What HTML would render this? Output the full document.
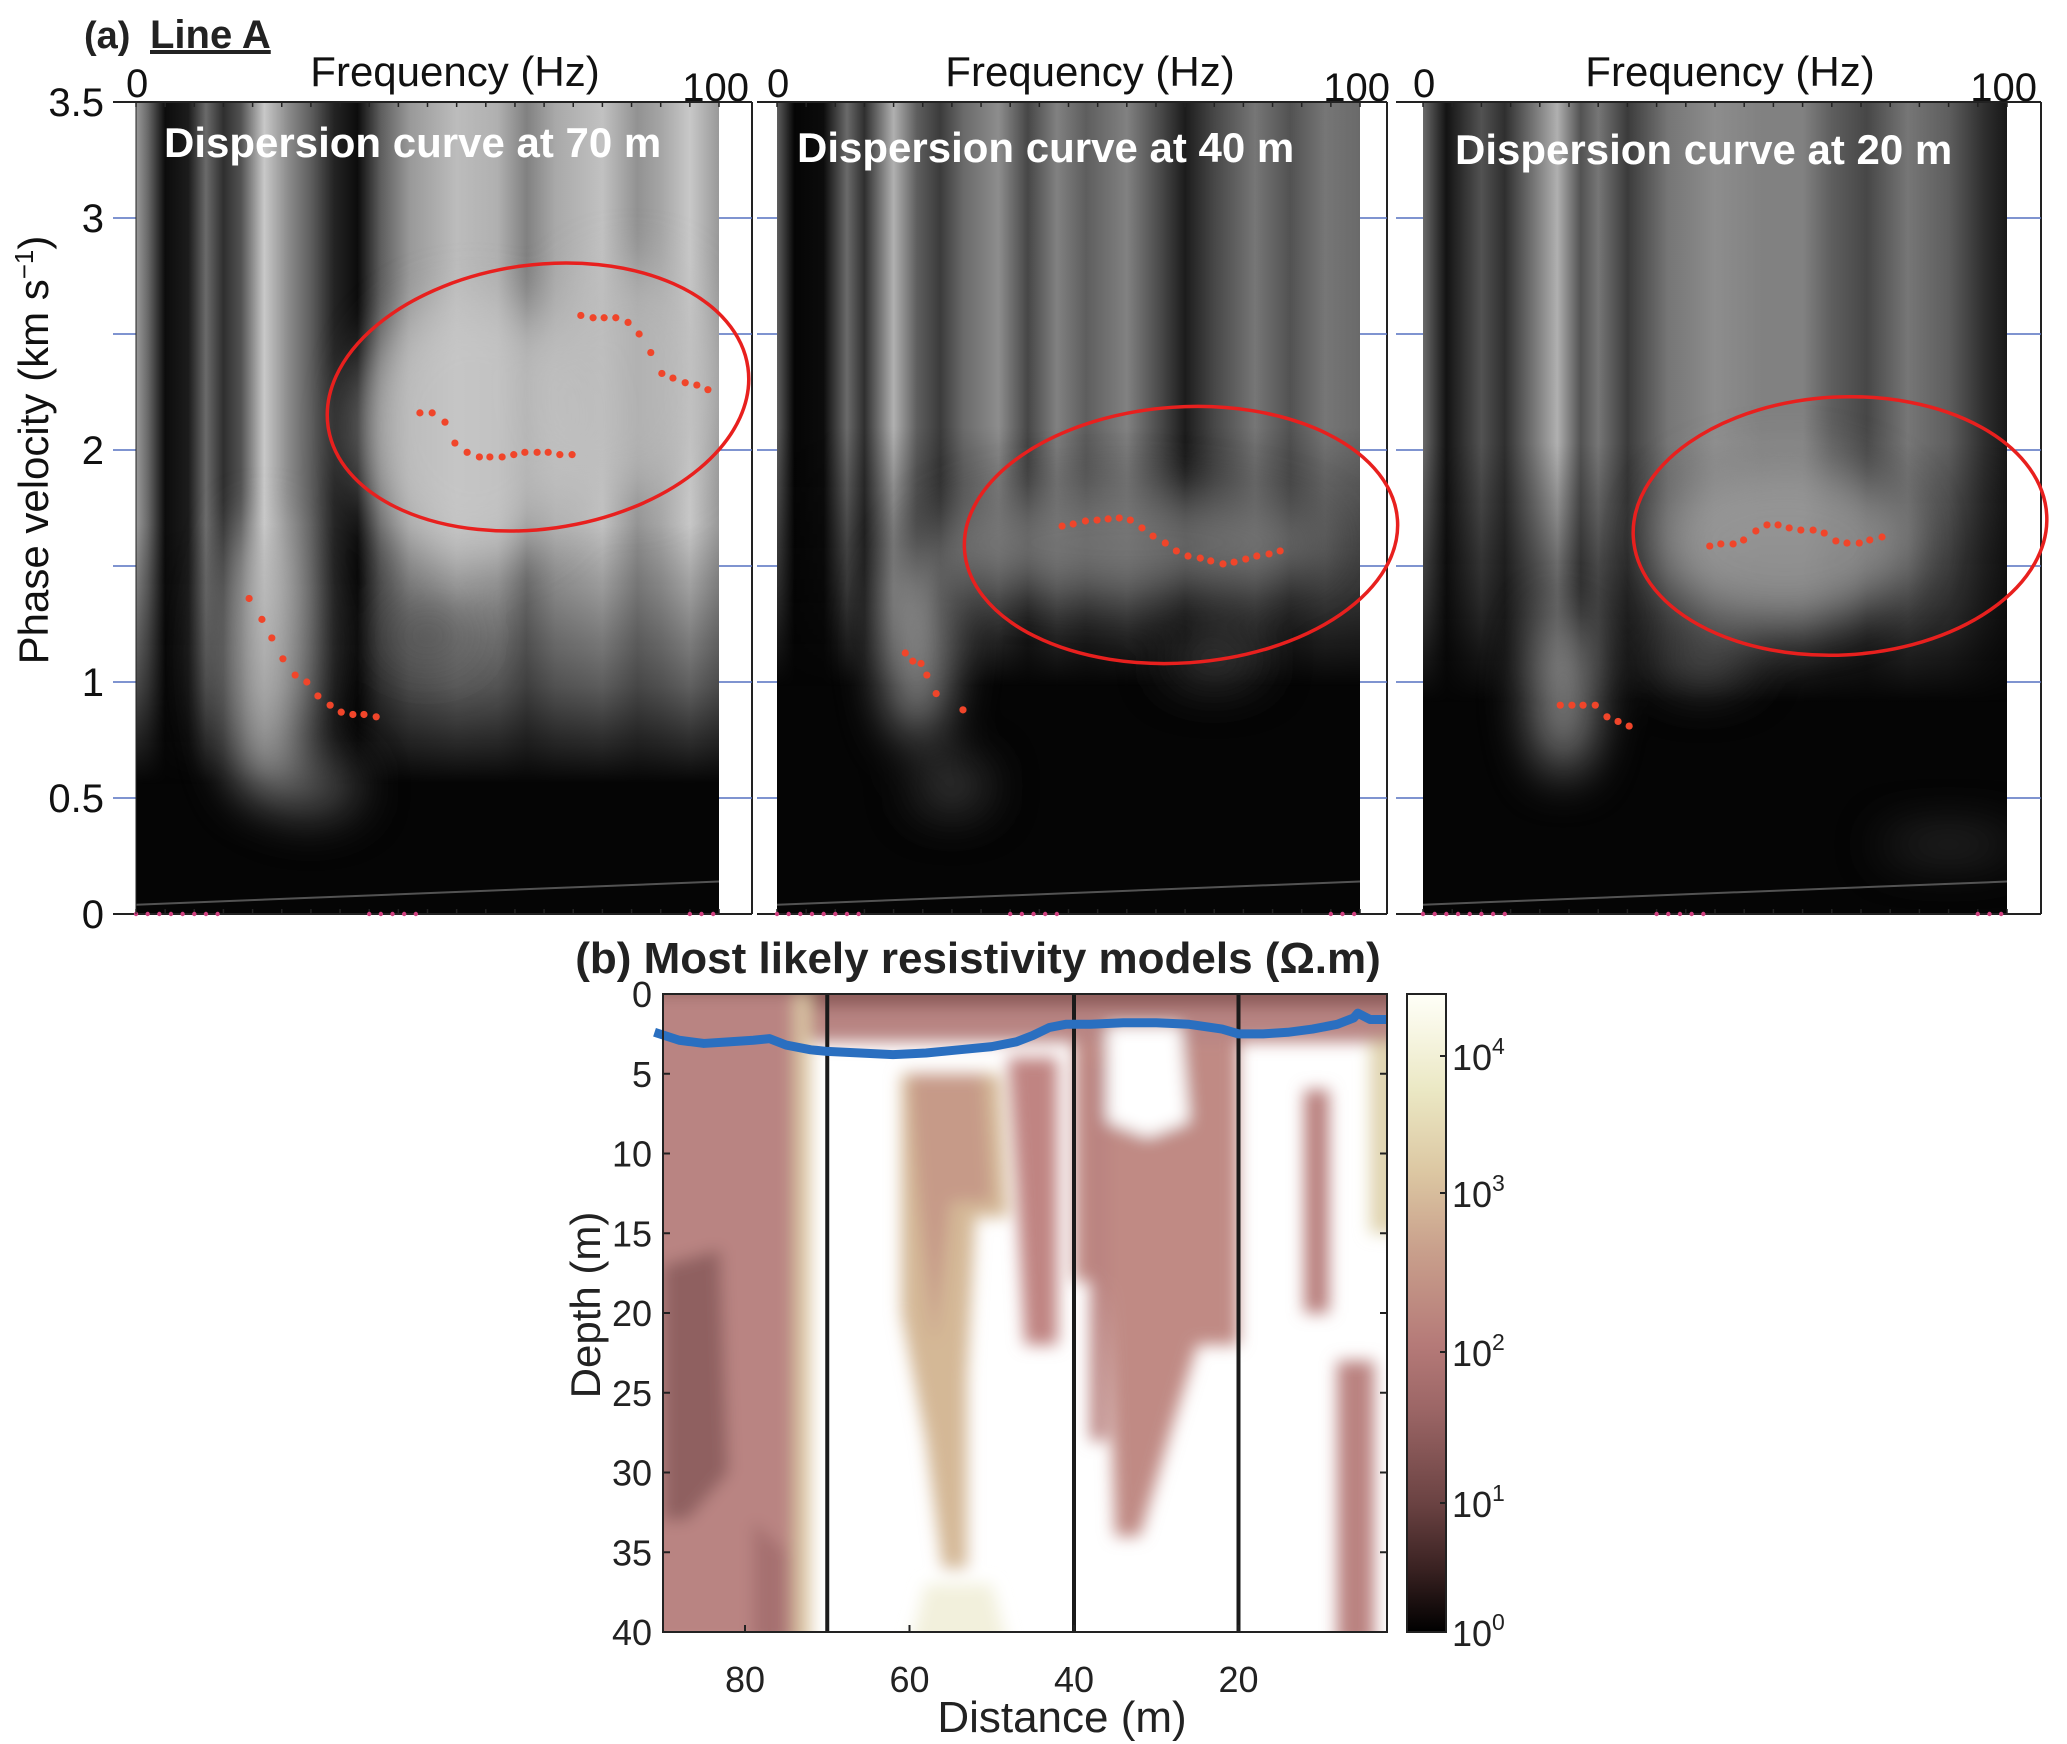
<!DOCTYPE html>
<html><head><meta charset="utf-8"><style>
html,body{margin:0;padding:0;background:#fff;}
svg{display:block;font-family:"Liberation Sans",Arial,sans-serif;}
</style></head><body>
<svg id="fig" width="2067" height="1744" viewBox="0 0 2067 1744" xmlns="http://www.w3.org/2000/svg">
<defs>
  <filter id="blur6" x="-20%" y="-20%" width="140%" height="140%"><feGaussianBlur stdDeviation="8"/></filter>
  <filter id="blur25" x="-40%" y="-40%" width="180%" height="180%"><feGaussianBlur stdDeviation="25"/></filter>
  <clipPath id="clipRes"><rect x="663" y="994" width="724" height="638"/></clipPath>
  <linearGradient id="cbGrad" x1="0" y1="1" x2="0" y2="0">
    <stop offset="0" stop-color="#000000"/>
    <stop offset="0.1" stop-color="#3a2222"/>
    <stop offset="0.2" stop-color="#6a4242"/>
    <stop offset="0.35" stop-color="#9c6666"/>
    <stop offset="0.45" stop-color="#b57a78"/>
    <stop offset="0.6" stop-color="#c9a08c"/>
    <stop offset="0.72" stop-color="#dcc7a2"/>
    <stop offset="0.85" stop-color="#ebe8c4"/>
    <stop offset="1" stop-color="#fffff8"/>
  </linearGradient>
</defs>
<g id="panels"></g>
<g id="bottom"></g>
<script>
// ---------- Dispersion data (frequency Hz, phase velocity km/s) ----------
const p1LowF = [19.4,21.6,23.3,25.2,27.3,29.3,31.2,33.3,35.2,37.2,39.1,41.2];
const p1LowV = [1.36,1.27,1.19,1.10,1.03,1.00,0.94,0.90,0.87,0.86,0.86,0.85];
const p1MidF = [48.7,50.8,53.0,54.7,56.8,58.9,60.7,62.8,64.8,66.7,68.8,70.7,72.7,74.8];
const p1MidV = [2.16,2.16,2.12,2.03,1.99,1.97,1.97,1.97,1.98,1.99,1.99,1.99,1.98,1.98];
const p1HighF = [76.3,78.4,80.3,82.3,84.4,86.3,88.3,90.2,92.1,94.2,96.2,98.1];
const p1HighV = [2.58,2.57,2.57,2.57,2.55,2.50,2.42,2.33,2.31,2.29,2.28,2.26];
const p2LowF = [22.0,23.3,24.7,25.7,27.3,31.9];
const p2LowV = [1.125,1.09,1.08,1.03,0.95,0.88];
const p2MidF = [48.9,50.8,52.9,54.9,56.8,58.7,60.6,62.6,64.5,66.6,68.5,70.5,72.6,74.4,76.5,78.4,80.4,82.3,84.4,86.3];
const p2MidV = [1.672,1.681,1.694,1.698,1.703,1.707,1.698,1.664,1.629,1.599,1.565,1.543,1.534,1.522,1.509,1.517,1.53,1.543,1.552,1.565];
const p3LowF = [23.5,25.5,27.4,29.5,31.5,33.4,35.3];
const p3LowV = [0.90,0.90,0.90,0.90,0.85,0.83,0.81];
const p3MidF = [49.1,51.0,53.1,54.9,57.0,58.9,60.8,62.7,64.7,66.8,68.7,70.7,72.6,74.7,76.5,78.6];
const p3MidV = [1.586,1.595,1.595,1.612,1.651,1.677,1.677,1.664,1.655,1.655,1.642,1.608,1.599,1.599,1.612,1.625];
const vTicks = [0,0.5,1,1.5,2,2.5,3,3.5];
const vTickLabels = ["0","0.5","1","","2","","3","3.5"];
const panelTitles = ["Dispersion curve at 70 m","Dispersion curve at 40 m","Dispersion curve at 20 m"];

// ---------- Resistivity data ----------
const distTicks = [80,60,40,20];
const depthTicks = [0,5,10,15,20,25,30,35,40];
const boundaryDist = [70,40,20];
const waterDist = [91,88,85,82,79,77,75,72,70,66,62,58,54,50,47,45,43,41,38,34,30,26,22,20,17,14,11,8,6,5.5,4,2];
const waterDepth = [2.4,2.9,3.1,3.0,2.9,2.8,3.2,3.5,3.6,3.7,3.8,3.7,3.5,3.3,3.0,2.6,2.1,1.9,1.9,1.8,1.8,1.9,2.2,2.5,2.5,2.4,2.2,1.9,1.5,1.2,1.6,1.6];
const cbExp = [0,1,2,3,4];
const cbLabelY = [1632,1503,1352,1193,1056];

const NS = "http://www.w3.org/2000/svg";
function mk(tag, attrs, parent){const e=document.createElementNS(NS,tag);for(const k in attrs)e.setAttribute(k,attrs[k]);if(parent)parent.appendChild(e);return e;}
function ts(parent,txt,attrs){const t=mk('tspan',attrs||{},parent);t.textContent=txt;return t;}

const P = [
 {ax0:113, img0:136, img1:719, box1:752, fLab:455, tx:164, ty:157},
 {ax0:757, img0:777, img1:1360, box1:1387, fLab:1090, tx:797, ty:162},
 {ax0:1396, img0:1423, img1:2007, box1:2041, fLab:1730, tx:1455, ty:164}
];
const Y0 = 914, PXV = 232;
function yV(v){return Y0 - v*PXV;}
function xF(p,f){return p.img0 + f/100*(p.img1-p.img0);}

const stripes = [
 [[0,0.65],[0.02,0.45],[0.05,0.05],[0.09,0.12],[0.12,0.45],[0.15,0.2],[0.18,0.35],[0.22,0.85],[0.26,0.6],[0.3,0.4],[0.34,0.15],[0.38,0.05],[0.42,0.4],[0.47,0.65],[0.55,0.8],[0.62,0.75],[0.67,0.55],[0.72,0.72],[0.8,0.82],[0.86,0.62],[0.9,0.7],[0.95,0.85],[1,0.65]],
 [[0,0.4],[0.03,0.02],[0.08,0.05],[0.12,0.45],[0.15,0.2],[0.2,0.75],[0.24,0.4],[0.28,0.25],[0.32,0.45],[0.38,0.6],[0.43,0.3],[0.48,0.55],[0.53,0.4],[0.6,0.55],[0.66,0.3],[0.7,0.12],[0.75,0.3],[0.82,0.5],[0.88,0.35],[0.94,0.5],[1,0.45]],
 [[0,0.45],[0.04,0.08],[0.1,0.35],[0.14,0.2],[0.19,0.5],[0.23,0.75],[0.27,0.35],[0.3,0.5],[0.35,0.25],[0.42,0.5],[0.5,0.6],[0.58,0.55],[0.65,0.55],[0.7,0.4],[0.76,0.3],[0.83,0.5],[0.9,0.4],[0.96,0.2],[1,0.1]]
];
const blobs = [
 [[0.22,1.1,0.07,0.6,0.85],[0.58,2.1,0.2,0.55,0.85],[0.85,2.3,0.15,0.5,0.8],[0.3,0.55,0.08,0.12,0.5],[0.5,1.2,0.08,0.12,0.35]],
 [[0.24,1.15,0.05,0.4,0.85],[0.6,1.6,0.35,0.22,0.55],[0.3,0.55,0.06,0.1,0.4],[0.75,1.1,0.08,0.1,0.35]],
 [[0.24,0.95,0.05,0.35,0.8],[0.62,1.6,0.22,0.35,0.7],[0.48,1.1,0.08,0.12,0.4],[0.9,0.3,0.12,0.03,0.55]]
];
const fadeStop = [0.72,0.6,0.62];
const ellipses = [[538,397,212,132,-8],[1181,535,217,128,-4],[1840,526,207,129,-3]];

const gP = document.getElementById('panels');
const defs = document.querySelector('defs');
P.forEach((p,i)=>{
  const g = mk('g',{},gP);
  
  
  const W = p.img1-p.img0, H = Y0-yV(3.5), top=yV(3.5);
  const lg = mk('linearGradient',{id:'st'+i,x1:0,y1:0,x2:1,y2:0},defs);
  stripes[i].forEach(s=>{const c=Math.round(s[1]*235);mk('stop',{offset:s[0],'stop-color':`rgb(${c},${c},${c})`},lg);});
  const mg = mk('linearGradient',{id:'fd'+i,x1:0,y1:0,x2:0,y2:1},defs);
  mk('stop',{offset:0,'stop-color':'#fff'},mg);
  mk('stop',{offset:fadeStop[i]-0.2,'stop-color':'#fff'},mg);
  mk('stop',{offset:fadeStop[i],'stop-color':'#777'},mg);
  mk('stop',{offset:fadeStop[i]+0.12,'stop-color':'#000'},mg);
  mk('stop',{offset:1,'stop-color':'#000'},mg);
  const mask = mk('mask',{id:'mk'+i},defs);
  mk('rect',{x:p.img0,y:top,width:W,height:H,fill:'url(#fd'+i+')'},mask);
  const cp = mk('clipPath',{id:'cp'+i},defs);
  mk('rect',{x:p.img0,y:top,width:W,height:H},cp);
  mk('rect',{x:p.img1,y:top,width:p.box1-p.img1,height:H,fill:'#fff'},g);
  const img = mk('g',{'clip-path':'url(#cp'+i+')'},g);
  const bg = mk('rect',{x:p.img0,y:top,width:W,height:H,fill:'#050505'},img);
  
  
  mk('rect',{x:p.img0,y:top,width:W,height:H,fill:'url(#st'+i+')',mask:'url(#mk'+i+')'},img);
  const bl = mk('g',{filter:'url(#blur25)'},img);
  blobs[i].forEach(b=>{const c=Math.round(b[4]*235);
    mk('ellipse',{cx:p.img0+b[0]*W,cy:yV(b[1]),rx:b[2]*W,ry:b[3]*PXV,fill:`rgb(${c},${c},${c})`,opacity:0.75},bl);});
  mk('line',{x1:p.img0,y1:yV(0.04),x2:p.img1,y2:yV(0.14),stroke:'#888','stroke-width':2,opacity:0.6},img);
  mk('line',{x1:p.ax0,y1:top,x2:p.box1,y2:top,stroke:'#222','stroke-width':2},g);
  mk('line',{x1:p.ax0,y1:Y0,x2:p.box1,y2:Y0,stroke:'#222','stroke-width':2},g);
  mk('line',{x1:p.box1,y1:top,x2:p.box1,y2:Y0,stroke:'#222','stroke-width':2},g);
  for(let f=0;f<=100;f+=5){mk('line',{x1:xF(p,f),y1:top,x2:xF(p,f),y2:top+5,stroke:'#222','stroke-width':1.5},g);
    mk('line',{x1:xF(p,f),y1:Y0,x2:xF(p,f),y2:Y0-5,stroke:'#222','stroke-width':1.5},g);}
  vTicks.forEach(v=>{ if(v>0&&v<3.5){
    mk('line',{x1:p.img1,y1:yV(v),x2:p.box1,y2:yV(v),stroke:'#5570c0','stroke-width':1.5},g);
    mk('line',{x1:p.ax0,y1:yV(v),x2:p.img0,y2:yV(v),stroke:'#5570c0','stroke-width':1.5},g);}});
  [[0,15],[40,48],[95,100]].forEach(r=>{for(let f=r[0];f<=r[1];f+=2){mk('circle',{cx:xF(p,f),cy:Y0,r:2.2,fill:'#d04080'},g);}});
  const t0=mk('text',{x:p.img0-10,y:97,'font-size':40,fill:'#111'},g);t0.textContent='0';
  
  const t1=mk('text',{x:p.img1+30,y:101,'font-size':40,fill:'#111','text-anchor':'end'},g);t1.textContent='100';
  
  const tf=mk('text',{x:p.fLab,y:86,'font-size':42,fill:'#111','text-anchor':'middle'},g);tf.textContent='Frequency (Hz)';
  
  const tt=mk('text',{x:p.tx,y:p.ty,'font-size':42,'font-weight':'bold',fill:'#fff'},g);tt.textContent=panelTitles[i];
  
  const e=ellipses[i];
  const el=mk('ellipse',{cx:e[0],cy:e[1],rx:e[2],ry:e[3],transform:`rotate(${e[4]} ${e[0]} ${e[1]})`,fill:'none',stroke:'#e8201e','stroke-width':3.5},g);
  
});
const gY = mk('g',{},gP);


mk('line',{x1:136,y1:yV(3.5),x2:136,y2:Y0,stroke:'#222','stroke-width':1},gY);
vTicks.forEach((v,k)=>{ if(vTickLabels[k]){const t=mk('text',{x:104,y:yV(v)+14,'font-size':40,fill:'#111','text-anchor':'end'},gY);t.textContent=vTickLabels[k];}});
const yt=mk('text',{x:0,y:0,'font-size':42,fill:'#111','text-anchor':'middle',transform:'translate(48,450) rotate(-90)'},gY);
ts(yt,'Phase velocity (km s');
ts(yt,'−1',{dy:'-15','font-size':'26'});
ts(yt,')',{dy:'15'});

function dots(pi,F,V,name){const g=mk('g',{},gP);
  F.forEach((f,k)=>{mk('circle',{cx:xF(P[pi],f),cy:yV(V[k]),r:3.6,fill:'#f0452a'},g);});}
dots(0,p1LowF,p1LowV,'picks-70m-low');dots(0,p1MidF,p1MidV,'picks-70m-mid');dots(0,p1HighF,p1HighV,'picks-70m-high');
dots(1,p2LowF,p2LowV,'picks-40m-low');dots(1,p2MidF,p2MidV,'picks-40m-mid');
dots(2,p3LowF,p3LowV,'picks-20m-low');dots(2,p3MidF,p3MidV,'picks-20m-mid');
const la=mk('text',{x:84,y:48,'font-size':38,'font-weight':'bold',fill:'#222'},gP);la.textContent='(a)';

const lA=mk('text',{x:150,y:48,'font-size':40,'font-weight':'bold',fill:'#222','text-decoration':'underline'},gP);lA.textContent='Line A';


// ---------- Bottom resistivity panel ----------
const gB = document.getElementById('bottom');
function xD(d){return 745+(80-d)*8.225;}
function yZ(z){return 994+z*15.95;}
const tb=mk('text',{x:978,y:973,'font-size':44,'font-weight':'bold',fill:'#222','text-anchor':'middle'},gB);tb.textContent='(b) Most likely resistivity models (Ω.m)';

const rg=mk('g',{'clip-path':'url(#clipRes)'},gB);

mk('rect',{x:663,y:994,width:724,height:638,fill:'#ffffff'},rg);
const rb=mk('g',{filter:'url(#blur6)'},rg);
const regions=[
 [[[95,-1],[0,-1],[0,3],[95,3]],'#b88482'],
 [[[95,-1],[0,-1],[0,0.8],[95,0.8]],'#8c5a58'],
 [[[95,0],[72,0],[72,41],[95,41]],'#dac6a4'],
 [[[95,0],[74,0],[74,41],[95,41]],'#b98482'],
 [[[90,17],[83,16],[82,30],[87,33],[90,33]],'#8f6060'],
 [[[79,33],[75,35],[75,41],[79,41]],'#a57070'],
 [[[61,5],[49,5],[48,14],[52,14],[53,24],[53,36],[56,36],[58,28],[61,20]],'#d4b896'],
 [[[60,5],[51,5],[50,13],[55,13],[57,22],[59,12]],'#c69a88'],
 [[[48,4],[42,4],[42,22],[46,22],[47,12]],'#c08482'],
 [[[40,3],[20,3],[20,22],[25,22],[28,27],[32,34],[35,34],[36,18],[40,18]],'#c08a84'],
 [[[38,4],[36,4],[36,28],[38,28]],'#b98280'],
 [[[36,2],[27,2],[26,8],[31,9],[36,8]],'#ffffff'],
 [[[12,6],[9,6],[9,20],[12,20]],'#b87e7c'],
 [[[8,23],[3.5,23],[3.5,41],[8,41]],'#ba8280'],
 [[[4,3],[0,3],[0,15],[4,15]],'#e0d4b0'],
 [[[58,37],[50,37],[48,41],[60,41]],'#f2f0dc']
];
regions.forEach((r,k)=>{const pts=r[0].map(q=>xD(q[0])+','+yZ(q[1])).join(' ');
  const pg=mk('polygon',{points:pts,fill:r[1]},rb);
  
  });
boundaryDist.forEach(d=>{const l=mk('line',{x1:xD(d),y1:994,x2:xD(d),y2:1632,stroke:'#1a1a1a','stroke-width':4},gB);
  });
const wl=mk('polyline',{points:waterDist.map((d,k)=>xD(d)+','+yZ(waterDepth[k])).join(' '),fill:'none',stroke:'#2a6fc0','stroke-width':9,'stroke-linejoin':'round'},gB);

mk('rect',{x:663,y:994,width:724,height:638,fill:'none',stroke:'#222','stroke-width':2},gB);
depthTicks.forEach(z=>{mk('line',{x1:663,y1:yZ(z),x2:670,y2:yZ(z),stroke:'#222','stroke-width':2},gB);
  mk('line',{x1:1387,y1:yZ(z),x2:1380,y2:yZ(z),stroke:'#222','stroke-width':2},gB);
  const t=mk('text',{x:652,y:yZ(z)+13,'font-size':36,fill:'#222','text-anchor':'end'},gB);t.textContent=z;});
distTicks.forEach(d=>{mk('line',{x1:xD(d),y1:1632,x2:xD(d),y2:1625,stroke:'#222','stroke-width':2},gB);
  const t=mk('text',{x:xD(d),y:1692,'font-size':36,fill:'#222','text-anchor':'middle'},gB);t.textContent=d;});
const dl=mk('text',{x:0,y:0,'font-size':42,fill:'#222','text-anchor':'middle',transform:'translate(600,1305) rotate(-90)'},gB);dl.textContent='Depth (m)';

const xl=mk('text',{x:1062,y:1732,'font-size':44,fill:'#222','text-anchor':'middle'},gB);xl.textContent='Distance (m)';

const cb=mk('rect',{x:1407,y:994,width:39,height:638,fill:'url(#cbGrad)',stroke:'#222','stroke-width':2},gB);

cbExp.forEach((e,k)=>{mk('line',{x1:1440,y1:cbLabelY[k],x2:1446,y2:cbLabelY[k],stroke:'#222','stroke-width':2},gB);
  const t=mk('text',{x:1452,y:cbLabelY[k]+14,'font-size':36,fill:'#222'},gB);
  ts(t,'10');
  ts(t,String(e),{dy:'-16','font-size':'23'});
  });
</script>
</svg>
</body></html>
